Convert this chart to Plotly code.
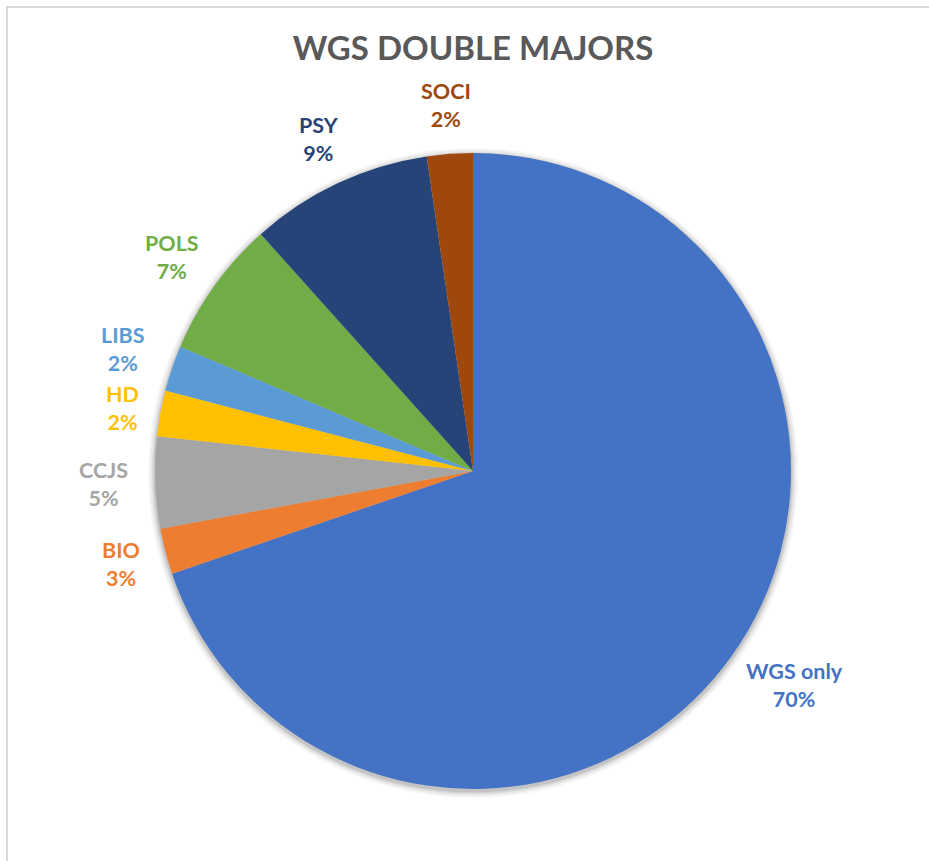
import math
import plotly.graph_objects as go

# ---- data ----
categories = ["WGS only", "BIO", "CCJS", "HD", "LIBS", "POLS", "PSY", "SOCI"]
counts = [30, 1, 2, 1, 1, 3, 4, 1]
pct_labels = ["70%", "3%", "5%", "2%", "2%", "7%", "9%", "2%"]
colors = ["#4472C4", "#ED7D31", "#A5A5A5", "#FFC000", "#5B9BD5", "#70AD47", "#264478", "#9E480E"]
title_text = "WGS DOUBLE MAJORS"

# ---- layout constants (pixels) ----
W, H = 929, 861
CX, CY, R = 473, 471, 318
FONT = "Lato, 'Open Sans', sans-serif"
LBL_SIZE = 21.5

def px(x):
    return x / W

def py(y):
    return 1 - y / H

fig = go.Figure()
fig.add_trace(go.Pie(
    labels=categories,
    values=counts,
    sort=False,
    direction="clockwise",
    rotation=0,
    marker=dict(colors=colors, line=dict(width=0)),
    textinfo="none",
    hoverinfo="label+percent",
    showlegend=False,
    domain=dict(x=[px(CX - R), px(CX + R)], y=[py(CY + R), py(CY - R)]),
))

# ---- data labels placed outside each slice (derived from the values) ----
total = sum(counts)
cum = 0
pos = []
gap = 26
for cat, v, lab in zip(categories, counts, pct_labels):
    mid = (cum + v / 2) / total
    cum += v
    th = 2 * math.pi * mid
    dx, dy = math.sin(th), -math.cos(th)
    nchar = max(len(cat), len(lab))
    hw = 0.3 * LBL_SIZE * nchar
    hh = 23
    pos.append([CX + (R + gap) * dx + dx * hw, CY + (R + gap) * dy + dy * hh])

# keep stacked labels on the left side from colliding
box_h = 2 * LBL_SIZE * 1.3 + 3
left = sorted([i for i, p in enumerate(pos) if p[0] < CX - 150], key=lambda i: pos[i][1])
for _ in range(20):
    for a, b in zip(left, left[1:]):
        d = pos[b][1] - pos[a][1]
        if d < box_h:
            s = (box_h - d) / 2
            pos[a][1] -= s
            pos[b][1] += s

annotations = []
for (x, y), cat, lab, col in zip(pos, categories, pct_labels, colors):
    annotations.append(dict(
        x=px(x), y=py(y), xref="paper", yref="paper",
        xanchor="center", yanchor="middle",
        text=f"<b>{cat}</b><br><b>{lab}</b>", showarrow=False,
        align="center",
        font=dict(family=FONT, size=LBL_SIZE, color=col),
    ))

# ---- soft shadow behind the pie + chart border ----
shapes = []
for k, a in [(7, 0.035), (5, 0.05), (3, 0.07), (1.5, 0.09)]:
    rr = R + k
    shapes.append(dict(
        type="circle", xref="paper", yref="paper", layer="below",
        x0=px(CX - rr), x1=px(CX + rr), y0=py(CY + rr + 2), y1=py(CY - rr + 2),
        fillcolor=f"rgba(0,0,0,{a})", line=dict(width=0),
    ))
shapes.append(dict(
    type="rect", xref="paper", yref="paper", layer="below",
    x0=px(7), x1=1.05, y0=-0.05, y1=py(7),
    line=dict(color="#D9D9D9", width=2), fillcolor="rgba(0,0,0,0)",
))

fig.update_layout(
    width=W, height=H,
    margin=dict(l=0, r=0, t=0, b=0),
    paper_bgcolor="white", plot_bgcolor="white",
    title=dict(
        text=f"<b>{title_text}</b>",
        x=px(CX), xanchor="center", y=py(48), yanchor="middle",
        font=dict(family=FONT, size=33, color="#595959"),
    ),
    annotations=annotations,
    shapes=shapes,
)

fig.write_html(
    "out.html",
    config={"displayModeBar": False},
    post_script="document.body.style.margin='0px';document.body.style.overflow='hidden';",
)
